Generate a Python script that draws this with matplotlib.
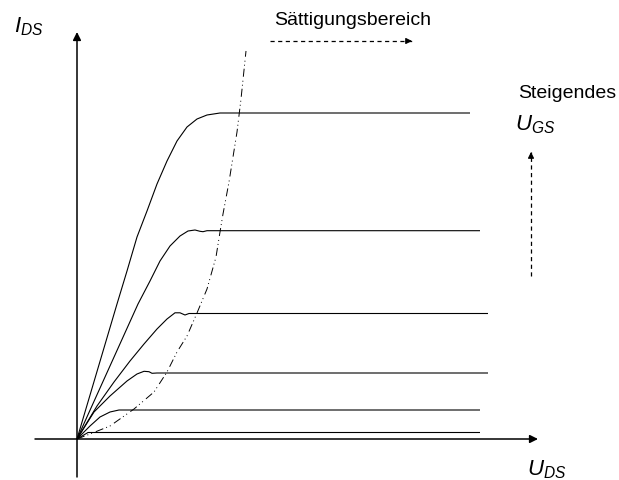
import matplotlib.pyplot as plt

plt.rcParams['font.family'] = ['Liberation Sans', 'DejaVu Sans']
plt.rcParams['mathtext.fontset'] = 'custom'
plt.rcParams['mathtext.it'] = 'Liberation Sans:italic'
plt.rcParams['mathtext.rm'] = 'Liberation Sans'
plt.rcParams['lines.scale_dashes'] = False

# Ausgangskennlinien (U_DS, I_DS), von unten nach oben = steigendes U_GS
curve1_u = [0, 0.11, 4.03]
curve1_i = [0, 0.065, 0.065]

curve2_u = [0, 0.13, 0.23, 0.33, 0.42, 4.03]
curve2_i = [0, 0.13, 0.22, 0.27, 0.29, 0.29]

curve3_u = [0, 0.17, 0.33, 0.50, 0.60, 0.67, 0.72, 0.75, 0.80, 4.11]
curve3_i = [0, 0.27, 0.43, 0.58, 0.65, 0.677, 0.673, 0.657, 0.66, 0.66]

curve4_u = [0, 0.20, 0.37, 0.53, 0.67, 0.80, 0.90, 0.98, 1.03, 1.08, 1.12, 4.11]
curve4_i = [0, 0.33, 0.57, 0.78, 0.95, 1.10, 1.20, 1.262, 1.262, 1.24, 1.255, 1.255]

curve5_u = [0, 0.61, 0.73, 0.83, 0.93, 1.03, 1.11, 1.18, 1.23, 1.26, 1.30, 4.03]
curve5_i = [0, 1.35, 1.58, 1.78, 1.93, 2.03, 2.08, 2.09, 2.077, 2.073, 2.083, 2.083]

curve6_u = [0, 0.40, 0.50, 0.60, 0.70, 0.80, 0.90, 1.00, 1.10, 1.20, 1.30, 1.43, 3.93]
curve6_i = [0, 1.35, 1.68, 2.02, 2.28, 2.55, 2.78, 2.98, 3.12, 3.20, 3.24, 3.26, 3.26]

# Grenze zum Sättigungsbereich
border_u = [0, 0.13, 0.33, 0.57, 0.77, 0.90, 1.00, 1.10, 1.20, 1.30,
            1.39, 1.43, 1.46, 1.52, 1.60, 1.64, 1.69]
border_i = [0, 0.05, 0.13, 0.30, 0.47, 0.67, 0.87, 1.03, 1.26, 1.50,
            1.82, 2.07, 2.25, 2.57, 3.07, 3.40, 3.88]

curves = [(curve1_u, curve1_i), (curve2_u, curve2_i), (curve3_u, curve3_i),
          (curve4_u, curve4_i), (curve5_u, curve5_i), (curve6_u, curve6_i)]


def dashed_arrow(ax, start, end):
    ax.plot([start[0], end[0]], [start[1], end[1]], color='black', lw=0.9,
            dashes=(3, 2.5))
    # Pfeilspitze separat, damit sie nicht gestrichelt wird
    back = (end[0] - 0.06 * (end[0] - start[0]) / abs(end[0] - start[0] or 1),
            end[1] - 0.06 * (end[1] - start[1]) / abs(end[1] - start[1] or 1))
    ax.annotate('', xy=end, xytext=back,
                arrowprops=dict(arrowstyle='-|>', color='black', lw=0.8,
                                mutation_scale=9, shrinkA=0, shrinkB=0))


fig = plt.figure(figsize=(6.19, 4.81), dpi=100)
ax = fig.add_axes([0, 0, 1, 1])
ax.set_xlim(-0.77, 5.42)
ax.set_ylim(-0.41, 4.40)
ax.axis('off')

# Achsen mit Pfeilen
ax.annotate('', xy=(0, 4.07), xytext=(0, -0.38),
            arrowprops=dict(arrowstyle='-|>', color='black', lw=1.1,
                            mutation_scale=12, shrinkA=0, shrinkB=0))
ax.annotate('', xy=(4.61, 0), xytext=(-0.42, 0),
            arrowprops=dict(arrowstyle='-|>', color='black', lw=1.1,
                            mutation_scale=12, shrinkA=0, shrinkB=0))

for u, i in curves:
    ax.plot(u, i, color='black', lw=0.8, solid_capstyle='butt',
            solid_joinstyle='round')

ax.plot(border_u, border_i, color='black', lw=0.7,
        dashes=(5.8, 2.2, 0.7, 2.2, 0.7, 2.9))

dashed_arrow(ax, (1.93, 3.98), (3.35, 3.98))
dashed_arrow(ax, (4.54, 1.63), (4.54, 2.87))

ax.text(-0.63, 4.08, r'$I_{DS}$', fontsize=16, ha='left', va='baseline')
ax.text(4.50, -0.35, r'$U_{DS}$', fontsize=16, ha='left', va='baseline')
ax.text(4.38, 3.10, r'$U_{GS}$', fontsize=16, ha='left', va='baseline')
ax.text(2.76, 4.15, 'Sättigungsbereich', fontsize=14, ha='center', va='baseline')
ax.text(4.41, 3.42, 'Steigendes', fontsize=14, ha='left', va='baseline')

fig.savefig('out.png', dpi=100)
